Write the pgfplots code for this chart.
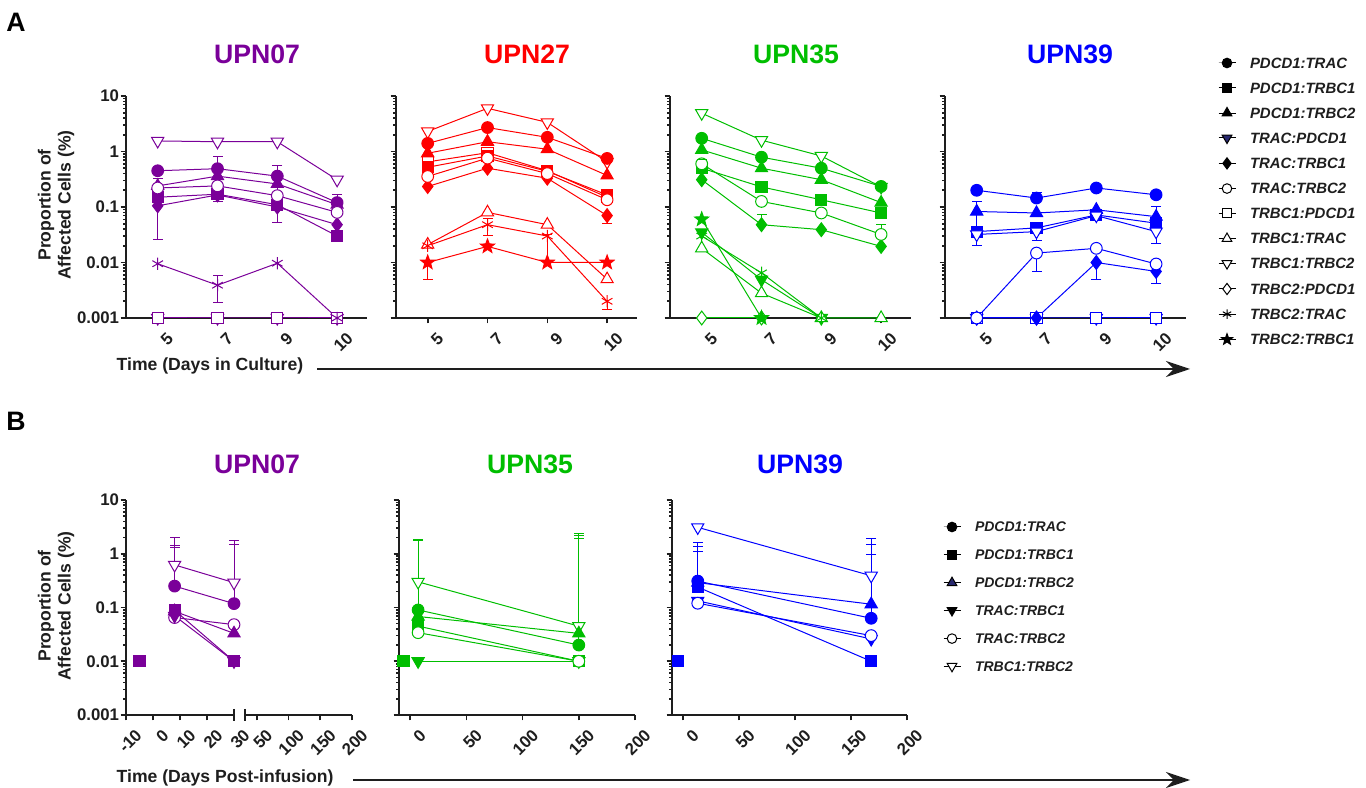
\documentclass[border=0pt]{standalone}
\usepackage{pgfplots}
\pgfplotsset{compat=1.18}
\usepackage{fontspec}
\setmainfont{Liberation Sans}
\usetikzlibrary{arrows.meta,plotmarks}
\definecolor{cP}{RGB}{122,0,153}
\definecolor{cR}{RGB}{255,0,0}
\definecolor{cG}{RGB}{0,190,0}
\definecolor{cB}{RGB}{0,0,255}
\definecolor{txt}{RGB}{30,30,30}
\definecolor{navy}{RGB}{40,40,110}

\pgfdeclareplotmark{fstar}{%
 \pgfpathmoveto{\pgfpointpolar{90}{1.15\pgfplotmarksize}}%
 \pgfpathlineto{\pgfpointpolar{126}{0.48\pgfplotmarksize}}%
 \pgfpathlineto{\pgfpointpolar{162}{1.15\pgfplotmarksize}}%
 \pgfpathlineto{\pgfpointpolar{198}{0.48\pgfplotmarksize}}%
 \pgfpathlineto{\pgfpointpolar{234}{1.15\pgfplotmarksize}}%
 \pgfpathlineto{\pgfpointpolar{270}{0.48\pgfplotmarksize}}%
 \pgfpathlineto{\pgfpointpolar{306}{1.15\pgfplotmarksize}}%
 \pgfpathlineto{\pgfpointpolar{342}{0.48\pgfplotmarksize}}%
 \pgfpathlineto{\pgfpointpolar{18}{1.15\pgfplotmarksize}}%
 \pgfpathlineto{\pgfpointpolar{54}{0.48\pgfplotmarksize}}%
 \pgfpathclose\pgfusepathqfillstroke}

\pgfplotsset{/pgf/number format/assume math mode=true}
\pgfplotsset{every axis/.append style={scale only axis, clip=false, ymode=log, ymin=0.001, ymax=10,
    axis x line*=bottom, axis y line*=left,
    axis line style={line width=1.5pt, txt},
    tick style={line width=1.2pt, txt}, tick align=outside,
    major tick length=4pt, minor tick length=2.2pt,
    ytick={0.001,0.01,0.1,1,10}, yticklabels={0.001,0.01,0.1,1,10},
    minor ytick={0.002,0.003,0.004,0.005,0.006,0.007,0.008,0.009,
      0.02,0.03,0.04,0.05,0.06,0.07,0.08,0.09,
      0.2,0.3,0.4,0.5,0.6,0.7,0.8,0.9,2,3,4,5,6,7,8,9},
    tick label style={font=\fontsize{12.6}{14}\selectfont\bfseries, text=txt},
    yticklabel style={inner sep=1pt},
    xticklabel style={rotate=45, anchor=north east, inner sep=1pt, xshift=1.5pt, yshift=-7.5pt}},
  every axis plot/.append style={line width=0.75pt, mark size=4.4pt}}

\pgfplotsset{
  mkA/.style={mark=*},
  mkB/.style={mark=square*, mark size=4.2pt},
  mkC/.style={mark=triangle*, mark size=5.3pt},
  mkD/.style={mark=triangle*, mark size=5.3pt, mark options={rotate=180}},
  mkE/.style={mark=diamond*, mark size=5.2pt},
  mkF/.style={mark=*, mark options={fill=white}},
  mkG/.style={mark=square*, mark size=4.2pt, mark options={fill=white}},
  mkH/.style={mark=triangle*, mark size=5.3pt, mark options={fill=white}},
  mkI/.style={mark=triangle*, mark size=5.3pt, mark options={rotate=180, fill=white}},
  mkJ/.style={mark=diamond*, mark size=5.2pt, mark options={fill=white}},
  mkK/.style={mark=asterisk, mark size=4.6pt},
  mkL/.style={mark=fstar, mark size=4.8pt},
  errb/.style={mark=-, mark size=3.75pt, line width=0.75pt},
  errt/.style={errb, mark indices={2}},
  errd/.style={errb, mark indices={1}},
  myli/.style={black, line width=0.75pt, mark size=3.6pt},
}

\begin{document}
\begin{tikzpicture}
\begin{scope}[x=0.75pt,y=0.75pt]
\useasboundingbox (0,0) rectangle (1366,788);
\tikzset{lab/.style={font=\fontsize{13.2}{15}\selectfont\bfseries, text=txt},
  ttl/.style={font=\fontsize{20}{22}\selectfont\bfseries}}
\node[font=\fontsize{20}{22}\selectfont\bfseries] at (16,{788-22}) {A};
\node[font=\fontsize{20}{22}\selectfont\bfseries] at (16,{788-421}) {B};
\node[ttl, text=cP] at (257,{788-54}) {UPN07};
\node[ttl, text=cR] at (527,{788-54}) {UPN27};
\node[ttl, text=cG] at (796,{788-54}) {UPN35};
\node[ttl, text=cB] at (1070,{788-54}) {UPN39};
\node[ttl, text=cP] at (257,{788-464}) {UPN07};
\node[ttl, text=cG] at (530,{788-464}) {UPN35};
\node[ttl, text=cB] at (800,{788-464}) {UPN39};
\node[lab, rotate=90, align=center] at (56,{788-205}) {Proportion of\\Affected Cells (\%)};
\node[lab, rotate=90, align=center] at (56,{788-606}) {Proportion of\\Affected Cells (\%)};
\node[lab, anchor=west] at (112,{788-366}) {Time (Days in Culture)};
\node[lab, anchor=west] at (112,{788-778}) {Time (Days Post-infusion)};
\draw[line width=1.5pt, txt, -{Stealth[length=18pt,width=12pt]}] (317,{788-369}) -- (1190,{788-369});
\draw[line width=1.5pt, txt, -{Stealth[length=18pt,width=12pt]}] (353,{788-780}) -- (1190,{788-780});
\draw[line width=1.5pt, txt] (234,{788-709}) -- (234,{788-721});
\draw[line width=1.5pt, txt] (245,{788-709}) -- (245,{788-721});
\end{scope}

% ---------------- Panel A: UPN07
\begin{axis}[anchor=south west, at={(94.5pt,352.5pt)}, width=180.75pt, height=166.5pt,
  xmin=-0.53, xmax=3.5, xtick={0,1,2,3}, xticklabels={5,7,9,10},
  every axis plot/.append style={cP}]
\addplot[mkA] coordinates {(0,0.45)(1,0.49)(2,0.36)(3,0.12)};
\addplot[mkB] coordinates {(0,0.15)(1,0.17)(2,0.11)(3,0.03)};
\addplot[mkC] coordinates {(0,0.24)(1,0.36)(2,0.26)(3,0.11)};
\addplot[mkD] coordinates {(0,0.001)(1,0.001)(2,0.001)(3,0.001)};
\addplot[mkE] coordinates {(0,0.105)(1,0.165)(2,0.10)(3,0.048)};
\addplot[mkF] coordinates {(0,0.22)(1,0.24)(2,0.16)(3,0.08)};
\addplot[mkG] coordinates {(0,0.001)(1,0.001)(2,0.001)(3,0.001)};
\addplot[mkI] coordinates {(0,1.55)(1,1.5)(2,1.5)(3,0.31)};
\addplot[mkK] coordinates {(0,0.0095)(1,0.0039)(2,0.0097)(3,0.001)};
\addplot[errb] coordinates {(0,0.026)(0,0.33)};
\addplot[errb] coordinates {(1,0.126)(1,0.82)};
\addplot[errb] coordinates {(2,0.053)(2,0.55)};
\addplot[errb] coordinates {(1,0.0019)(1,0.0058)};
\addplot[errt] coordinates {(3,0.12)(3,0.166)};
\end{axis}

% ---------------- Panel A: UPN27
\begin{axis}[anchor=south west, at={(297pt,352.5pt)}, width=180.75pt, height=166.5pt,
  xmin=-0.53, xmax=3.5, xtick={0,1,2,3}, xticklabels={5,7,9,10}, yticklabels={},
  every axis plot/.append style={cR}]
\addplot[mkI] coordinates {(0,2.3)(1,6.0)(2,3.35)(3,0.65)};
\addplot[mkA] coordinates {(0,1.4)(1,2.7)(2,1.8)(3,0.75)};
\addplot[mkG] coordinates {(0,0.65)(1,0.95)(2,0.45)(3,0.15)};
\addplot[mkB] coordinates {(0,0.52)(1,0.83)(2,0.44)(3,0.165)};
\addplot[mkC] coordinates {(0,0.93)(1,1.5)(2,1.1)(3,0.37)};
\addplot[mkE] coordinates {(0,0.234)(1,0.5)(2,0.33)(3,0.07)};
\addplot[mkF] coordinates {(0,0.355)(1,0.76)(2,0.4)(3,0.135)};
\addplot[mkH] coordinates {(0,0.021)(1,0.08)(2,0.048)(3,0.005)};
\addplot[mkK] coordinates {(0,0.02)(1,0.048)(2,0.03)(3,0.002)};
\addplot[mkL] coordinates {(0,0.01)(1,0.0195)(2,0.01)(3,0.01)};
\addplot[errd] coordinates {(0,0.005)(0,0.01)};
\addplot[errb] coordinates {(1,0.031)(1,0.062)};
\addplot[errt] coordinates {(2,0.01)(2,0.032)};
\addplot[errd] coordinates {(3,0.0014)(3,0.002)};
\addplot[errd] coordinates {(3,0.051)(3,0.07)};
\end{axis}

% ---------------- Panel A: UPN35
\begin{axis}[anchor=south west, at={(502.5pt,352.5pt)}, width=180.75pt, height=166.5pt,
  xmin=-0.53, xmax=3.5, xtick={0,1,2,3}, xticklabels={5,7,9,10}, yticklabels={},
  every axis plot/.append style={cG}]
\addplot[mkI] coordinates {(0,4.9)(1,1.6)(2,0.83)(3,0.23)};
\addplot[mkA] coordinates {(0,1.73)(1,0.79)(2,0.5)(3,0.235)};
\addplot[mkB] coordinates {(0,0.5)(1,0.23)(2,0.135)(3,0.078)};
\addplot[mkC] coordinates {(0,1.07)(1,0.5)(2,0.31)(3,0.12)};
\addplot[mkD] coordinates {(0,0.035)(1,0.0049)(2,0.001)};
\addplot[mkE] coordinates {(0,0.31)(1,0.048)(2,0.039)(3,0.0195)};
\addplot[mkF] coordinates {(0,0.6)(1,0.126)(2,0.078)(3,0.032)};
\addplot[mkH] coordinates {(0,0.018)(1,0.0028)(2,0.001)(3,0.001)};
\addplot[mkJ] coordinates {(0,0.001)(1,0.001)};
\addplot[mkK] coordinates {(0,0.03)(1,0.0065)(2,0.001)};
\addplot[mkL] coordinates {(0,0.06)(1,0.001)};
\addplot[errt] coordinates {(0,0.5)(0,0.72)};
\addplot[errt] coordinates {(1,0.048)(1,0.072)};
\addplot[errt] coordinates {(3,0.032)(3,0.048)};
\end{axis}

% ---------------- Panel A: UPN39
\begin{axis}[anchor=south west, at={(708.75pt,352.5pt)}, width=180.75pt, height=166.5pt,
  xmin=-0.53, xmax=3.5, xtick={0,1,2,3}, xticklabels={5,7,9,10}, yticklabels={},
  every axis plot/.append style={cB}]
\addplot[mkD] coordinates {(0,0.001)(1,0.001)(2,0.001)(3,0.001)};
\addplot[mkG] coordinates {(0,0.001)(1,0.001)(2,0.001)(3,0.001)};
\addplot[mkA] coordinates {(0,0.2)(1,0.145)(2,0.22)(3,0.166)};
\addplot[mkB] coordinates {(0,0.036)(1,0.042)(2,0.072)(3,0.051)};
\addplot[mkC] coordinates {(0,0.083)(1,0.078)(2,0.089)(3,0.067)};
\addplot[mkI] coordinates {(0,0.032)(1,0.036)(2,0.07)(3,0.036)};
\addplot[mkE] coordinates {(0,0.001)(1,0.001)(2,0.01)(3,0.0069)};
\addplot[mkF] coordinates {(0,0.001)(1,0.0148)(2,0.018)(3,0.0094)};
\addplot[errb] coordinates {(0,0.02)(0,0.125)};
\addplot[errt] coordinates {(1,0.145)(1,0.185)};
\addplot[errd] coordinates {(1,0.025)(1,0.04)};
\addplot[errd] coordinates {(1,0.0068)(1,0.0148)};
\addplot[errd] coordinates {(2,0.005)(2,0.01)};
\addplot[errb] coordinates {(3,0.022)(3,0.1)};
\addplot[errd] coordinates {(3,0.0042)(3,0.0069)};
\end{axis}

% legend A
\begin{axis}[anchor=north west, at={(913.5pt,547.75pt)}, hide axis, width=1pt, height=1pt,
  xmin=0, xmax=1, ymin=1, ymax=10,
  legend image code/.code={\draw[mark repeat=2,mark phase=2,#1] plot coordinates {(0pt,0pt) (6.375pt,0pt) (12.75pt,0pt)};},
  legend cell align=left,
  legend style={at={(0,1)}, anchor=north west, draw=none, fill=none, inner sep=0pt, outer sep=0pt,
      column sep=10.5pt, text=txt, row sep=10.675pt,
      font=\fontsize{11.2}{12}\selectfont\bfseries\itshape,
      nodes={inner sep=0pt, text depth=0pt, text height=8pt}}]
\addlegendimage{myli, mark=*}\addlegendentry{PDCD1:TRAC}
\addlegendimage{myli, mark=square*, mark size=3.4pt}\addlegendentry{PDCD1:TRBC1}
\addlegendimage{myli, mark=triangle*, mark size=4.2pt}\addlegendentry{PDCD1:TRBC2}
\addlegendimage{myli, mark=triangle*, mark size=4.2pt, mark options={rotate=180, fill=navy}}\addlegendentry{TRAC:PDCD1}
\addlegendimage{myli, mark=diamond*, mark size=4.2pt}\addlegendentry{TRAC:TRBC1}
\addlegendimage{myli, mark=*, mark options={fill=white}}\addlegendentry{TRAC:TRBC2}
\addlegendimage{myli, mark=square*, mark size=3.4pt, mark options={fill=white}}\addlegendentry{TRBC1:PDCD1}
\addlegendimage{myli, mark=triangle*, mark size=4.2pt, mark options={fill=white}}\addlegendentry{TRBC1:TRAC}
\addlegendimage{myli, mark=triangle*, mark size=4.2pt, mark options={rotate=180, fill=white}}\addlegendentry{TRBC1:TRBC2}
\addlegendimage{myli, mark=diamond*, mark size=4.2pt, mark options={fill=white}}\addlegendentry{TRBC2:PDCD1}
\addlegendimage{myli, mark=asterisk}\addlegendentry{TRBC2:TRAC}
\addlegendimage{myli, mark=fstar, mark size=3.8pt}\addlegendentry{TRBC2:TRBC1}
\end{axis}

% ---------------- Panel B: UPN07 (broken axis)
\begin{axis}[anchor=south west, at={(94.5pt,54.75pt)}, width=81pt, height=161.25pt,
  xmin=-10, xmax=30, xtick={-10,0,10,20,30}, every axis plot/.append style={cP}]
\addplot[mkB, only marks] coordinates {(-5,0.01)};
\addplot[errt] coordinates {(8,0.25)(8,2.0)};
\addplot[errt] coordinates {(8,0.25)(8,1.4)};
\addplot[errt] coordinates {(8,0.25)(8,1.3)};
\addplot[errt] coordinates {(30,0.12)(30,1.8)};
\addplot[errt] coordinates {(30,0.12)(30,1.5)};
\addplot[mkI] coordinates {(8,0.62)(30,0.29)};
\addplot[mkA] coordinates {(8,0.25)(30,0.118)};
\addplot[mkF] coordinates {(8,0.065)(30,0.048)};
\addplot[mkC] coordinates {(8,0.085)(30,0.033)};
\addplot[mkD] coordinates {(8,0.07)(30,0.01)};
\addplot[mkB] coordinates {(8,0.089)(30,0.01)};
\end{axis}
\begin{axis}[anchor=south west, at={(184.5pt,54.75pt)}, width=79.5pt, height=161.25pt,
  xmin=33, xmax=200, xtick={50,100,150,200}, axis y line=none]
\addplot[draw=none] coordinates {(100,1)};
\end{axis}

% ---------------- Panel B: UPN35
\begin{axis}[anchor=south west, at={(299.25pt,54.75pt)}, width=177pt, height=161.25pt,
  xmin=-10, xmax=200, xtick={0,50,100,150,200}, yticklabels={},
  every axis plot/.append style={cG}]
\addplot[mkB, only marks] coordinates {(-6,0.01)};
\addplot[errt] coordinates {(7,0.09)(7,1.85)};
\addplot[errt] coordinates {(7,0.09)(7,1.75)};
\addplot[errt] coordinates {(150,0.02)(150,2.4)};
\addplot[errt] coordinates {(150,0.02)(150,2.15)};
\addplot[errt] coordinates {(150,0.02)(150,1.9)};
\addplot[mkD] coordinates {(7,0.01)(150,0.01)};
\addplot[mkI] coordinates {(7,0.3)(150,0.045)};
\addplot[mkA] coordinates {(7,0.09)(150,0.02)};
\addplot[mkC] coordinates {(7,0.068)(150,0.033)};
\addplot[mkB] coordinates {(7,0.045)(150,0.01)};
\addplot[mkF] coordinates {(7,0.034)(150,0.01)};
\end{axis}

% ---------------- Panel B: UPN39
\begin{axis}[anchor=south west, at={(504pt,54.75pt)}, width=176.25pt, height=161.25pt,
  xmin=-10, xmax=200, xtick={0,50,100,150,200}, yticklabels={},
  every axis plot/.append style={cB}]
\addplot[mkB, only marks] coordinates {(-5,0.01)};
\addplot[errt] coordinates {(13,0.3)(13,1.65)};
\addplot[errt] coordinates {(13,0.3)(13,1.35)};
\addplot[errt] coordinates {(13,0.3)(13,1.1)};
\addplot[errt] coordinates {(168,0.063)(168,1.9)};
\addplot[errt] coordinates {(168,0.063)(168,1.5)};
\addplot[errt] coordinates {(168,0.063)(168,0.95)};
\addplot[mkI] coordinates {(13,3.1)(168,0.39)};
\addplot[mkA] coordinates {(13,0.31)(168,0.063)};
\addplot[mkC] coordinates {(13,0.29)(168,0.115)};
\addplot[mkB] coordinates {(13,0.24)(168,0.01)};
\addplot[mkD] coordinates {(13,0.133)(168,0.026)};
\addplot[mkF] coordinates {(13,0.12)(168,0.03)};
\end{axis}

% legend B
\begin{axis}[anchor=north west, at={(707.25pt,199.5pt)}, hide axis, width=1pt, height=1pt,
  xmin=0, xmax=1, ymin=1, ymax=10,
  legend image code/.code={\draw[mark repeat=2,mark phase=2,#1] plot coordinates {(0pt,0pt) (6.375pt,0pt) (12.75pt,0pt)};},
  legend cell align=left,
  legend style={at={(0,1)}, anchor=north west, draw=none, fill=none, inner sep=0pt, outer sep=0pt,
      column sep=10.5pt, text=txt, row sep=13.2pt,
      font=\fontsize{10.5}{12}\selectfont\bfseries\itshape,
      nodes={inner sep=0pt, text depth=0pt, text height=7.5pt}}]
\addlegendimage{myli, mark=*}\addlegendentry{PDCD1:TRAC}
\addlegendimage{myli, mark=square*, mark size=3.4pt}\addlegendentry{PDCD1:TRBC1}
\addlegendimage{myli, mark=triangle*, mark size=4.2pt, mark options={fill=navy}}\addlegendentry{PDCD1:TRBC2}
\addlegendimage{myli, mark=triangle*, mark size=4.2pt, mark options={rotate=180}}\addlegendentry{TRAC:TRBC1}
\addlegendimage{myli, mark=*, mark options={fill=white}}\addlegendentry{TRAC:TRBC2}
\addlegendimage{myli, mark=triangle*, mark size=4.2pt, mark options={rotate=180, fill=white}}\addlegendentry{TRBC1:TRBC2}
\end{axis}
\end{tikzpicture}
\end{document}
